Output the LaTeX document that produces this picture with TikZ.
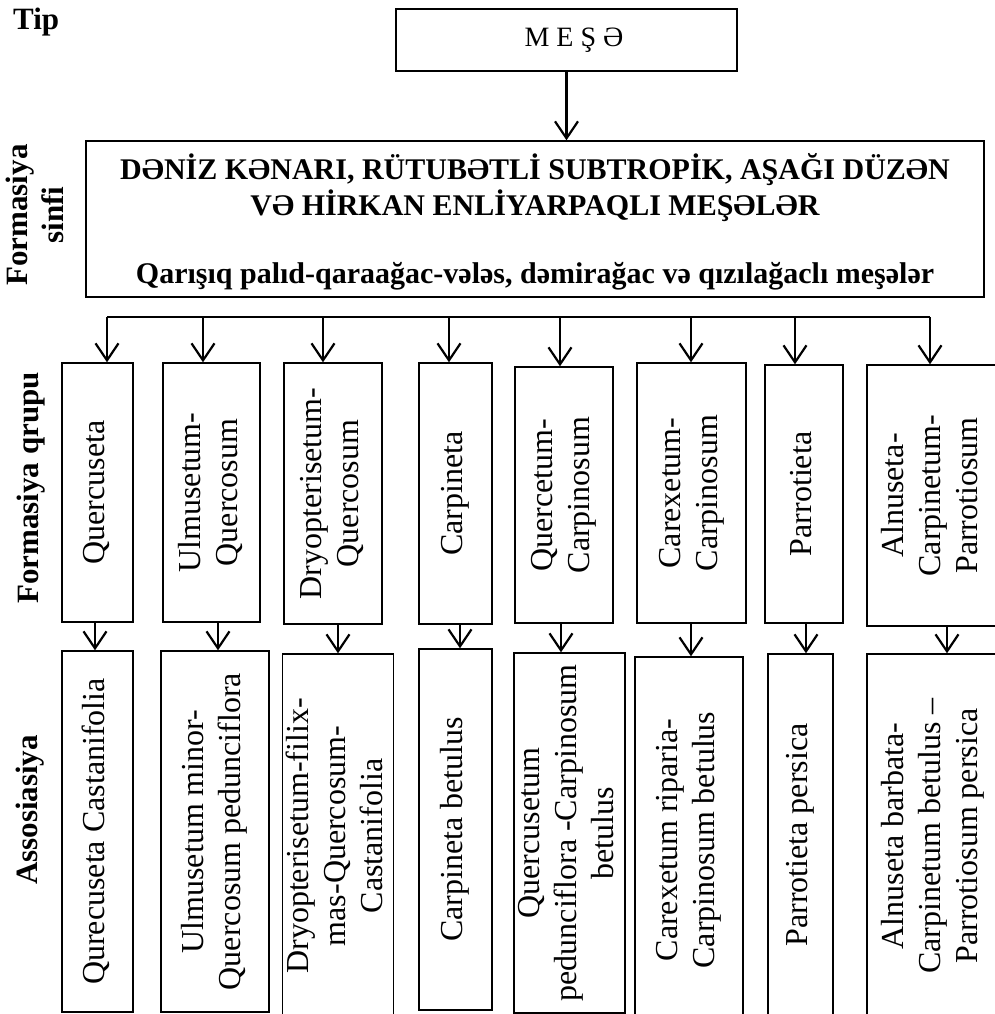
\documentclass[tikz,border=0pt]{standalone}
\usepackage{fontspec}
\setmainfont{Liberation Serif}
\usepackage{graphicx}
\usetikzlibrary{arrows.meta}

\newcommand{\vtext}[1]{\rotatebox{90}{\begin{tabular}{@{}c@{}}#1\end{tabular}}}

\begin{document}
\begin{tikzpicture}[x=1pt, y=-1pt,
  box/.style={draw, line width=1.4pt, inner sep=0pt, font=\fontsize{32}{37}\selectfont},
  lbl/.style={inner sep=0pt, font=\fontsize{31}{36}\selectfont\bfseries},
  arr/.style={line width=2.2pt, -{Straight Barb[length=17pt,width=23pt]}}]
\useasboundingbox (0,0) rectangle (995,1014);

%% type
\node[lbl, anchor=base west] (tip) at (13,30) {Tip};
\node[box, minimum width=341pt, minimum height=62pt, font=\fontsize{28}{32}\selectfont] (mese) at (566.5,40) {\hspace*{15pt}M E Ş Ə};

%% formation class
\node[lbl] (fsinfi) at (38,215) {\vtext{Formasiya\\sinfi}};
\node[box, minimum width=898pt, minimum height=156pt, font=\fontsize{30}{34}\selectfont\bfseries] (klass) at (535,219)
  {\begin{tabular}{@{}c@{}}\rule{0pt}{35.8pt}DƏNİZ KƏNARI, RÜTUBƏTLİ SUBTROPİK, AŞAĞI DÜZƏN\\VƏ HİRKAN ENLİYARPAQLI MEŞƏLƏR\\ \\Qarışıq palıd-qaraağac-vələs, dəmirağac və qızılağaclı meşələr\end{tabular}};
\draw[arr] (mese.south) -- (mese.south |- klass.north);

%% formation groups
\node[lbl] (fqrupu) at (31,488) {\rotatebox{90}{Formasiya qrupu}};

\node[box, minimum width=71pt, minimum height=259pt] (g1) at (97.5,492.5) {\vtext{Quercuseta}};
\node[box, minimum width=97pt, minimum height=259pt] (g2) at (211.5,492.5) {\vtext{Ulmusetum-\\Quercosum}};
\node[box, minimum width=98pt, minimum height=261pt] (g3) at (333,493.5) {\vtext{Dryopterisetum-\\Quercosum}};
\node[box, minimum width=73pt, minimum height=261pt] (g4) at (455.5,493.5) {\vtext{Carpineta}};
\node[box, minimum width=98pt, minimum height=256pt] (g5) at (564,495) {\vtext{Quercetum-\\Carpinosum}};
\node[box, minimum width=109pt, minimum height=260pt] (g6) at (691.5,493) {\vtext{Carexetum-\\Carpinosum}};
\node[box, minimum width=78pt, minimum height=258pt] (g7) at (804,494) {\vtext{Parrotieta}};
\node[box, minimum width=132pt, minimum height=261pt] (g8) at (933,495.5) {\vtext{Alnuseta-\\Carpinetum-\\Parrotiosum}};

\coordinate (t1) at (107,317);
\coordinate (t2) at (203,317);
\coordinate (t3) at (323,317);
\coordinate (t4) at (449,317);
\coordinate (t5) at (560,317);
\coordinate (t6) at (691,317);
\coordinate (t7) at (795,317);
\coordinate (t8) at (930,317);
\draw[line width=1.2pt] (t1) -- (t8);

\draw[arr] (t1) -- (t1 |- g1.north);
\draw[arr] (t2) -- (t2 |- g2.north);
\draw[arr] (t3) -- (t3 |- g3.north);
\draw[arr] (t4) -- (t4 |- g4.north);
\draw[arr] (t5) -- (t5 |- g5.north);
\draw[arr] (t6) -- (t6 |- g6.north);
\draw[arr] (t7) -- (t7 |- g7.north);
\draw[arr] (t8) -- (t8 |- g8.north);

%% associations
\node[lbl] (assos) at (30,810) {\rotatebox{90}{Assosiasiya}};

\node[box, minimum width=71pt, minimum height=361pt] (a1) at (97.5,831.5) {\vtext{Qurecuseta Castanifolia}};
\node[box, minimum width=108pt, minimum height=361pt] (a2) at (215,831.5) {\vtext{Ulmusetum minor-\\Quercosum pedunciflora}};
\node[box, minimum width=108pt, minimum height=364pt] (a3) at (338,836) {\vtext{Dryopterisetum-filix-\\mas-Quercosum-\\Castanifolia}};
\node[box, minimum width=73pt, minimum height=361pt] (a4) at (455.5,829.5) {\vtext{Carpineta betulus}};
\node[box, minimum width=107pt, minimum height=360pt] (a5) at (569.5,833) {\vtext{Quercusetum\\pedunciflora -Carpinosum\\betulus}};
\node[box, minimum width=108pt, minimum height=366pt] (a6) at (689,840) {\vtext{Carexetum riparia-\\Carpinosum betulus}};
\node[box, minimum width=65pt, minimum height=362pt] (a7) at (800.5,835) {\vtext{Parrotieta persica}};
\node[box, minimum width=133pt, minimum height=364pt] (a8) at (933.5,836) {\vtext{Alnuseta barbata-\\Carpinetum betulus –\\Parrotiosum persica}};

\coordinate (d1) at (95,636);
\coordinate (d2) at (218,636);
\coordinate (d3) at (338,636);
\coordinate (d4) at (460,636);
\coordinate (d5) at (561,636);
\coordinate (d6) at (691,636);
\coordinate (d7) at (806,636);
\coordinate (d8) at (947,636);

\draw[arr] (d1 |- g1.south) -- (d1 |- a1.north);
\draw[arr] (d2 |- g2.south) -- (d2 |- a2.north);
\draw[arr] (d3 |- g3.south) -- (d3 |- a3.north);
\draw[arr] (d4 |- g4.south) -- (d4 |- a4.north);
\draw[arr] (d5 |- g5.south) -- (d5 |- a5.north);
\draw[arr] (d6 |- g6.south) -- (d6 |- a6.north);
\draw[arr] (d7 |- g7.south) -- (d7 |- a7.north);
\draw[arr] (d8 |- g8.south) -- (d8 |- a8.north);

\end{tikzpicture}
\end{document}
